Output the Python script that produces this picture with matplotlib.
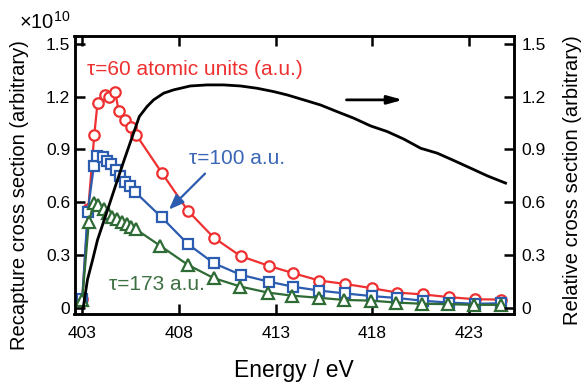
import matplotlib
matplotlib.use("Agg")
import matplotlib.pyplot as plt

plt.rcParams['font.family'] = ['Liberation Sans', 'DejaVu Sans']
plt.rcParams['mathtext.fontset'] = 'custom'
plt.rcParams['mathtext.rm'] = 'Liberation Sans'

# ---- data (values in units of 1e10 for the left axis) ----
energy_red = [403.0, 403.31, 403.62, 403.79, 404.19, 404.40, 404.71, 404.88, 405.23, 405.52, 405.78,
              407.13, 408.47, 409.80, 411.19, 412.64, 413.91, 415.26, 416.58, 417.96, 419.27,
              420.64, 421.96, 423.30, 424.63]
recap_tau60 = [0.05, 0.56, 0.98, 1.165, 1.21, 1.20, 1.226, 1.12, 1.07, 1.03, 0.985,
               0.765, 0.551, 0.399, 0.294, 0.239, 0.197, 0.155, 0.136, 0.112, 0.087,
               0.076, 0.061, 0.049, 0.047]

energy_blue = [403.0, 403.28, 403.60, 403.78, 404.06, 404.29, 404.50, 404.73, 404.97, 405.23, 405.46,
               405.72, 407.10, 408.47, 409.80, 411.19, 412.64, 413.91, 415.26, 416.58, 417.96,
               419.27, 420.64, 421.96, 423.30, 424.63]
recap_tau100 = [0.05, 0.545, 0.805, 0.865, 0.855, 0.835, 0.815, 0.785, 0.75, 0.718, 0.695,
                0.66, 0.515, 0.362, 0.254, 0.188, 0.149, 0.12, 0.098, 0.082, 0.067,
                0.056, 0.040, 0.030, 0.023, 0.026]

energy_green = [403.0, 403.34, 403.60, 403.83, 404.10, 404.33, 404.55, 404.81, 405.04, 405.30, 405.53,
                405.77, 407.04, 408.47, 409.80, 411.18, 412.58, 413.87, 415.24, 416.54, 417.91,
                419.25, 420.58, 421.91, 423.25, 424.64]
recap_tau173 = [0.045, 0.487, 0.595, 0.585, 0.56, 0.538, 0.519, 0.504, 0.49, 0.475, 0.46,
                0.447, 0.352, 0.244, 0.169, 0.121, 0.087, 0.069, 0.057, 0.045, 0.041,
                0.030, 0.023, 0.021, 0.017, 0.017]

energy_rel = [403.05, 403.27, 403.53, 403.79, 404.31, 404.74, 405.17, 405.95, 406.35, 406.69, 407.21,
              407.73, 408.59, 409.45, 410.31, 411.18, 412.04, 412.90, 413.60, 414.45, 415.32,
              416.18, 417.04, 417.91, 418.77, 419.63, 420.50, 421.36, 422.22, 423.08, 423.95, 424.89]
relative_cs = [0.0, 0.16, 0.27, 0.386, 0.557, 0.70, 0.841, 1.087, 1.144, 1.182, 1.22,
               1.239, 1.261, 1.267, 1.267, 1.261, 1.248, 1.229, 1.21, 1.182, 1.153,
               1.115, 1.078, 1.034, 1.002, 0.959, 0.907, 0.879, 0.837, 0.794, 0.75, 0.709]

x_ticks = [403, 408, 413, 418, 423]
y_ticks = [0, 0.3, 0.6, 0.9, 1.2, 1.5]
y_ticklabels = ['0', '0.3', '0.6', '0.9', '1.2', '1.5']

RED = '#ee3030'
BLUE = '#2b5cb0'
GREEN = '#2e6b35'

fig = plt.figure(figsize=(5.83, 3.83), dpi=100)
ax = fig.add_axes([74.5/583, 1-314/383, 439/583, 278/383])

ax.plot(energy_red, recap_tau60, '-o', color=RED, lw=1.6, ms=7.5, mfc='white', mec=RED, mew=1.6, zorder=3)
ax.plot(energy_blue, recap_tau100, '-s', color=BLUE, lw=1.6, ms=7.2, mfc='white', mec=BLUE, mew=1.6, zorder=4)
ax.plot(energy_green, recap_tau173, '-^', color=GREEN, lw=1.6, ms=8, mfc='white', mec=GREEN, mew=1.6, zorder=5)

xlim = (402.6, 425.3)
ylim = (-0.035, 1.545)
ax.set_xlim(*xlim)
ax.set_ylim(*ylim)
ax.set_xticks(x_ticks)
ax.set_xticklabels([str(t) for t in x_ticks])
ax.set_yticks(y_ticks)
ax.set_yticklabels(y_ticklabels)
ax.tick_params(axis='both', direction='in', length=7, width=1.8, labelsize=12.5, top=True)
ax.tick_params(axis='x', pad=9)
ax.tick_params(axis='y', pad=3)
for s in ax.spines.values():
    s.set_linewidth(1.8)

ax2 = ax.twinx()
ax2.plot(energy_rel, relative_cs, '-', color='black', lw=2, zorder=6)
ax2.set_ylim(*ylim)
ax2.set_xlim(*xlim)
ax2.set_yticks(y_ticks)
ax2.set_yticklabels(y_ticklabels)
ax2.tick_params(axis='y', direction='in', length=7, width=1.8, labelsize=12.5, pad=6)
for s in ax2.spines.values():
    s.set_linewidth(1.8)

# annotations
ax.text(403.24, 1.356, 'τ=60 atomic units (a.u.)', color=RED, fontsize=15, va='center', ha='left')
ax.text(408.5, 0.85, 'τ=100 a.u.', color='#3a66b5', fontsize=15, va='center', ha='left')
ax.text(404.4, 0.13, 'τ=173 a.u.', color='#3d7042', fontsize=15, va='center', ha='left')

ax.annotate('', xy=(407.38, 0.547), xytext=(409.45, 0.774),
            arrowprops=dict(arrowstyle='-|>,head_length=0.9,head_width=0.35', color=BLUE, lw=1.6))
ax2.annotate('', xy=(419.72, 1.182), xytext=(416.52, 1.182),
             arrowprops=dict(arrowstyle='-|>,head_length=0.9,head_width=0.25', color='black', lw=2))

fig.text(20/583, 1-195/383, 'Recapture cross section (arbitrary)', rotation=90,
         fontsize=14.5, ha='center', va='center')
fig.text(572/583, 1-180/383, 'Relative cross section (arbitrary)', rotation=90,
         fontsize=14.5, ha='center', va='center')
fig.text(294/583, 1-370/383, 'Energy / eV', fontsize=16.5, ha='center', va='center')
fig.text(19/583, 1-22/383, r'$\times$10$^{10}$', fontsize=14.5, ha='left', va='center')

fig.savefig('out.png', dpi=100)
